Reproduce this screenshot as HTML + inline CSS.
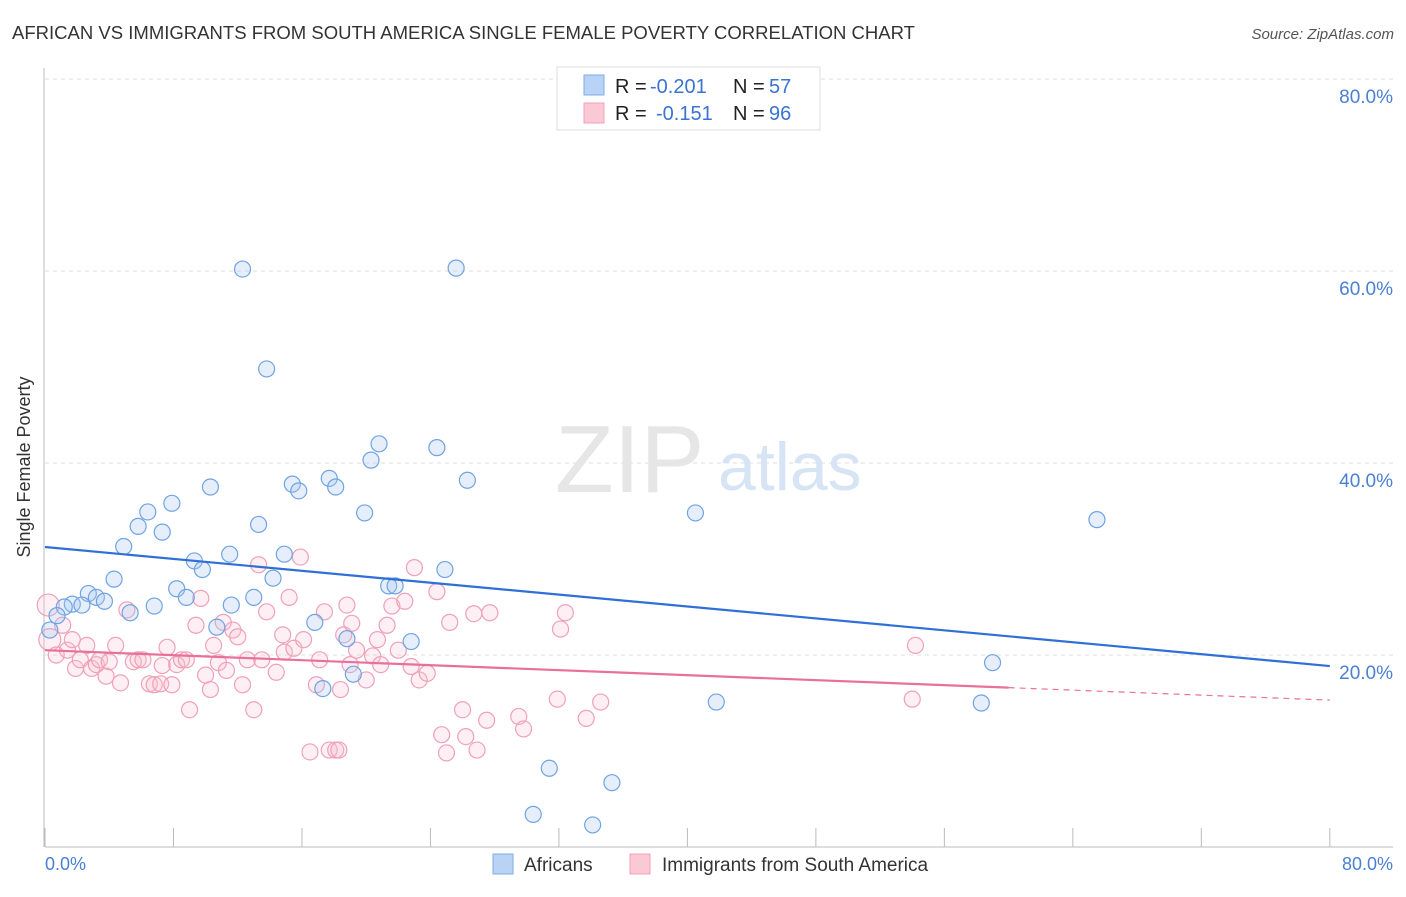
<!DOCTYPE html>
<html><head><meta charset="utf-8"><style>
body{margin:0;background:#fff;font-family:"Liberation Sans",sans-serif;}
svg text{font-family:"Liberation Sans",sans-serif;}
</style></head><body>
<svg width="1406" height="892" xmlns="http://www.w3.org/2000/svg" id="chart">
<text x="12" y="39" font-size="18" fill="#333" textLength="903" lengthAdjust="spacingAndGlyphs">AFRICAN VS IMMIGRANTS FROM SOUTH AMERICA SINGLE FEMALE POVERTY CORRELATION CHART</text>
<text x="1394" y="39" font-size="15" fill="#555" font-style="italic" text-anchor="end">Source: ZipAtlas.com</text>
<g id="grid"></g>
<text x="555" y="492" font-size="96" fill="#e6e6e6" font-family="Liberation Serif">ZIP</text>
<text x="718" y="490" font-size="68" fill="#d6e4f5">atlas</text>
<g id="pts"></g>
<g id="trends"></g>
<text x="18" y="455" font-size="18" fill="#333" transform="rotate(-90 30 455)" text-anchor="middle">Single Female Poverty</text>
<text x="45" y="870" font-size="18" fill="#4a7fd4">0.0%</text>
<text x="1393" y="870" font-size="18" fill="#4a7fd4" text-anchor="end">80.0%</text>
<g>
<rect x="557" y="67" width="263" height="63" fill="#fff" stroke="#ddd"/>
<rect x="584" y="75" width="20" height="20" fill="#b8d3f5" stroke="#7eaee8"/>
<rect x="584" y="103" width="20" height="20" fill="#fbc8d6" stroke="#f0a0b8"/>
<text x="615" y="93" font-size="20" fill="#222">R =</text>
<text x="650" y="93" font-size="20" fill="#3a73d0">-0.201</text>
<text x="733" y="93" font-size="20" fill="#222">N =</text>
<text x="769" y="93" font-size="20" fill="#3a73d0">57</text>
<text x="615" y="120" font-size="20" fill="#222">R =</text>
<text x="656" y="120" font-size="20" fill="#3a73d0">-0.151</text>
<text x="733" y="120" font-size="20" fill="#222">N =</text>
<text x="769" y="120" font-size="20" fill="#3a73d0">96</text>
</g>
<g>
<rect x="493" y="854" width="20" height="20" fill="#b8d3f5" stroke="#7eaee8"/>
<text x="524" y="871" font-size="19" fill="#333">Africans</text>
<rect x="630" y="854" width="20" height="20" fill="#fbc8d6" stroke="#f0a0b8"/>
<text x="662" y="871" font-size="19" fill="#333">Immigrants from South America</text>
</g>
</svg>
<script>
const yTicks=[20,40,60,80];
const yTickLabels=["20.0%","40.0%","60.0%","80.0%"];
const xTicks=[0,8,16,24,32,40,48,56,64,72,80];
const africansX=[12.3,25.6,13.8,20.8,24.4,20.3,26.3,17.7,10.3,15.4,18.1,15.8,7.9,6.4,19.9,40.5,65.5,5.8,13.3,7.3,4.9,11.5,14.9,9.3,9.8,24.9,14.2,4.3,21.4,21.8,8.2,2.7,3.2,8.8,13.0,1.7,2.3,3.7,1.2,6.8,11.6,5.3,0.75,10.7,16.8,0.3,18.8,22.8,59.0,17.3,19.2,41.8,58.3,31.4,35.3,30.4,34.1];
const africansY=[60.2,60.3,49.8,42.0,41.6,40.3,38.2,38.4,37.5,37.8,37.5,37.1,35.8,34.9,34.8,34.8,34.1,33.4,33.6,32.8,31.3,30.5,30.5,29.8,28.9,28.9,28.0,27.9,27.2,27.2,26.9,26.4,26.0,26.0,26.0,25.3,25.2,25.6,25.0,25.1,25.2,24.4,24.1,22.9,23.4,22.6,21.7,21.4,19.2,16.5,18.0,15.1,15.0,8.2,6.7,3.4,2.3];
const immX=[0.2,0.3,0.7,1.1,1.4,1.7,1.9,2.2,2.6,2.9,3.2,3.4,3.8,4.0,4.4,4.7,5.1,5.5,5.8,6.1,6.5,6.8,7.2,7.3,7.6,7.9,8.2,8.5,8.8,9.0,9.4,9.7,10.0,10.3,10.5,10.8,11.1,11.3,11.7,12.0,12.3,12.6,13.0,13.3,13.5,13.8,14.4,14.8,14.9,15.2,15.5,15.9,16.1,16.5,16.9,17.1,17.4,17.7,18.1,18.3,18.4,18.6,18.8,19.0,19.1,19.4,20.0,20.4,20.7,20.9,21.3,21.6,22.0,22.4,22.8,23.0,23.3,23.8,24.4,24.7,25.0,25.2,26.0,26.2,26.7,26.9,27.5,27.7,29.5,29.8,31.9,32.1,32.4,33.7,34.6,54.2,54.0];
const immY=[25.2,21.6,20.0,23.1,20.5,21.6,18.6,19.5,21.0,18.6,19.0,19.5,17.8,19.3,21.0,17.1,24.7,19.3,19.5,19.5,17.0,16.9,17.0,18.9,20.8,16.9,19.0,19.5,19.5,14.3,23.1,25.9,17.9,16.4,21.0,19.2,23.4,18.4,22.6,21.9,16.9,19.5,14.3,29.4,19.5,24.5,18.2,22.1,20.3,26.0,20.7,30.2,21.6,9.9,16.9,19.5,24.5,10.1,10.1,10.1,16.4,22.1,25.2,19.0,23.3,20.5,17.4,19.9,21.6,19.0,23.1,25.1,20.5,25.6,18.8,29.1,17.4,18.1,26.6,11.7,9.8,23.4,14.3,11.5,24.3,10.1,13.2,24.4,13.6,12.3,15.4,22.7,24.4,13.4,15.1,21.0,15.4];
const blueTrend=[[0,31.25],[80,18.85]];
const pinkTrend=[[0,20.5],[60,16.6],[80,15.3]];
const NS="http://www.w3.org/2000/svg";
const sx=v=>45+v*16.06, sy=v=>847-v*9.6;
function mk(tag,attrs,parent){const e=document.createElementNS(NS,tag);for(const k in attrs)e.setAttribute(k,attrs[k]);parent.appendChild(e);return e;}
const grid=document.getElementById('grid');
yTicks.forEach((t,i)=>{
 const l=mk('line',{x1:45,x2:1393,y1:sy(t),y2:sy(t),stroke:'#ddd','stroke-dasharray':'4,4'},grid);
 
 
 const tx=mk('text',{x:1393,y:sy(t)+24,'font-size':19,fill:'#4a7fd4','text-anchor':'end'},grid);
 tx.textContent=yTickLabels[i];
 
 
});
const ax=mk('line',{x1:45,x2:1393,y1:847,y2:847,stroke:'#bbb'},grid);


const ay=mk('line',{x1:44,x2:44,y1:68,y2:847,stroke:'#bbb'},grid);


xTicks.forEach(t=>{const l=mk('line',{x1:sx(t),x2:sx(t),y1:828,y2:847,stroke:'#bbb'},grid);
 
 });
const pts=document.getElementById('pts');
immX.forEach((x,i)=>{const c=mk('circle',{cx:sx(x),cy:sy(immY[i]),r:i<2?11:8,fill:'rgba(248,190,208,0.25)',stroke:'#f0a0b8','stroke-width':1.2},pts);
 
 });
africansX.forEach((x,i)=>{const c=mk('circle',{cx:sx(x),cy:sy(africansY[i]),r:8,fill:'rgba(170,200,240,0.3)',stroke:'#6fa3e3','stroke-width':1.2},pts);
 
 });
const tr=document.getElementById('trends');
const b=mk('line',{x1:sx(blueTrend[0][0]),y1:sy(blueTrend[0][1]),x2:sx(blueTrend[1][0]),y2:sy(blueTrend[1][1]),stroke:'#2f6fd6','stroke-width':2.2},tr);


const p1=mk('line',{x1:sx(pinkTrend[0][0]),y1:sy(pinkTrend[0][1]),x2:sx(pinkTrend[1][0]),y2:sy(pinkTrend[1][1]),stroke:'#e8709a','stroke-width':2.2},tr);


const p2=mk('line',{x1:sx(pinkTrend[1][0]),y1:sy(pinkTrend[1][1]),x2:sx(pinkTrend[2][0]),y2:sy(pinkTrend[2][1]),stroke:'#e8709a','stroke-width':1.2,'stroke-dasharray':'6,5'},tr);


</script>
</body></html>
